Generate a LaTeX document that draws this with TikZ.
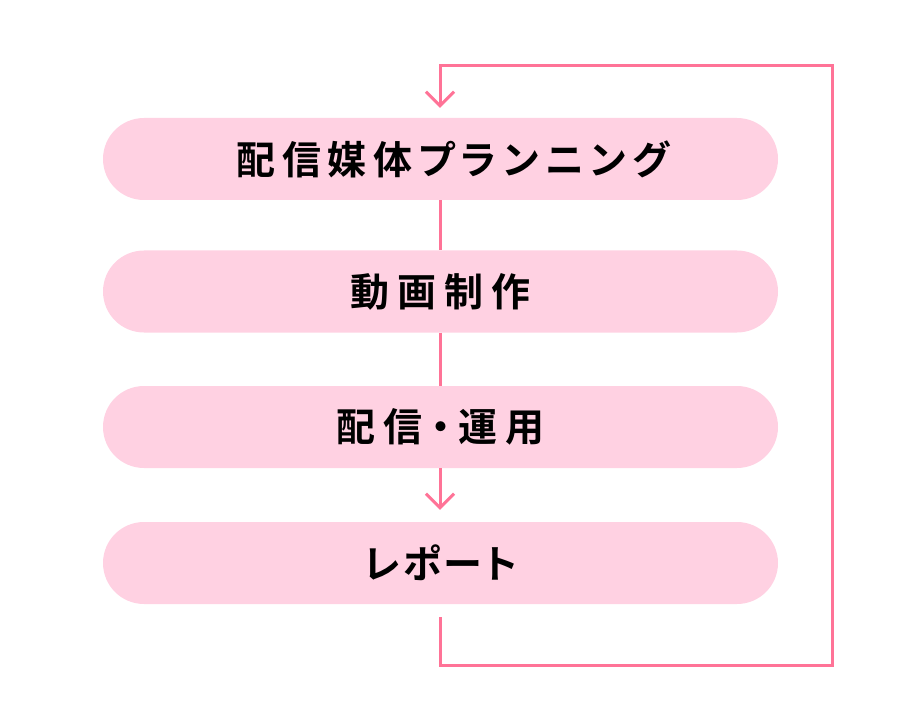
\documentclass[tikz,border=0pt]{standalone}
\usepackage{fontspec}
\newfontfamily\jpfont{Noto Sans CJK JP}[BoldFont={Noto Sans CJK JP Bold},RawFeature=+palt]
\usetikzlibrary{arrows.meta}
\definecolor{linepink}{HTML}{FF7397}
\definecolor{boxpink}{HTML}{FFD1E2}
\newcommand{\tk}{\hspace{8pt}}
\newcommand{\tn}{\hspace{6.5pt}}
\newcommand{\tr}{\hspace{3pt}}
\tikzset{
  stepbox/.style={fill=boxpink, draw=none, rounded corners=41pt,
    minimum width=675pt, minimum height=82pt, inner sep=0pt,
    font=\jpfont\bfseries\fontsize{39}{42}\selectfont, text=black},
  flow/.style={draw=linepink, line width=3pt},
  tip/.style={-{Straight Barb[length=14pt,width=28pt]}}
}
\begin{document}
\begin{tikzpicture}[x=1pt,y=-1pt]
\useasboundingbox (0,0) rectangle (899,719);
\node[stepbox] (s1) at (440.5,159) {\hspace{25pt}配\tn 信\tn 媒\tn 体\tn プ\tn ラ\tn ン\tn ニ\tn ン\tn グ};
\node[stepbox] (s2) at (440.5,291.5) {動\tk 画\tk 制\tk 作};
\node[stepbox] (s3) at (440.5,427) {配\tk 信\tk ・\tk 運\tk 用};
\node[stepbox] (s4) at (440.5,563) {レ\tr ポ\tr ー\tr ト};
\coordinate (lstart) at (440,617);
\coordinate (lb) at (440,665);
\coordinate (rb) at (832,665);
\coordinate (rt) at (832,66);
\coordinate (lt) at (440,66);
\draw[flow] (s1.south -| 440,0) -- (s2.north -| 440,0);
\draw[flow] (s2.south -| 440,0) -- (s3.north -| 440,0);
\draw[flow, tip, shorten >=12pt] (s3.south -| 440,0) -- (s4.north -| 440,0);
\draw[flow, tip, shorten >=10pt] (lstart) -- (lb) -- (rb) -- (rt) -- (lt) -- (s1.north -| lt);
\end{tikzpicture}
\end{document}
